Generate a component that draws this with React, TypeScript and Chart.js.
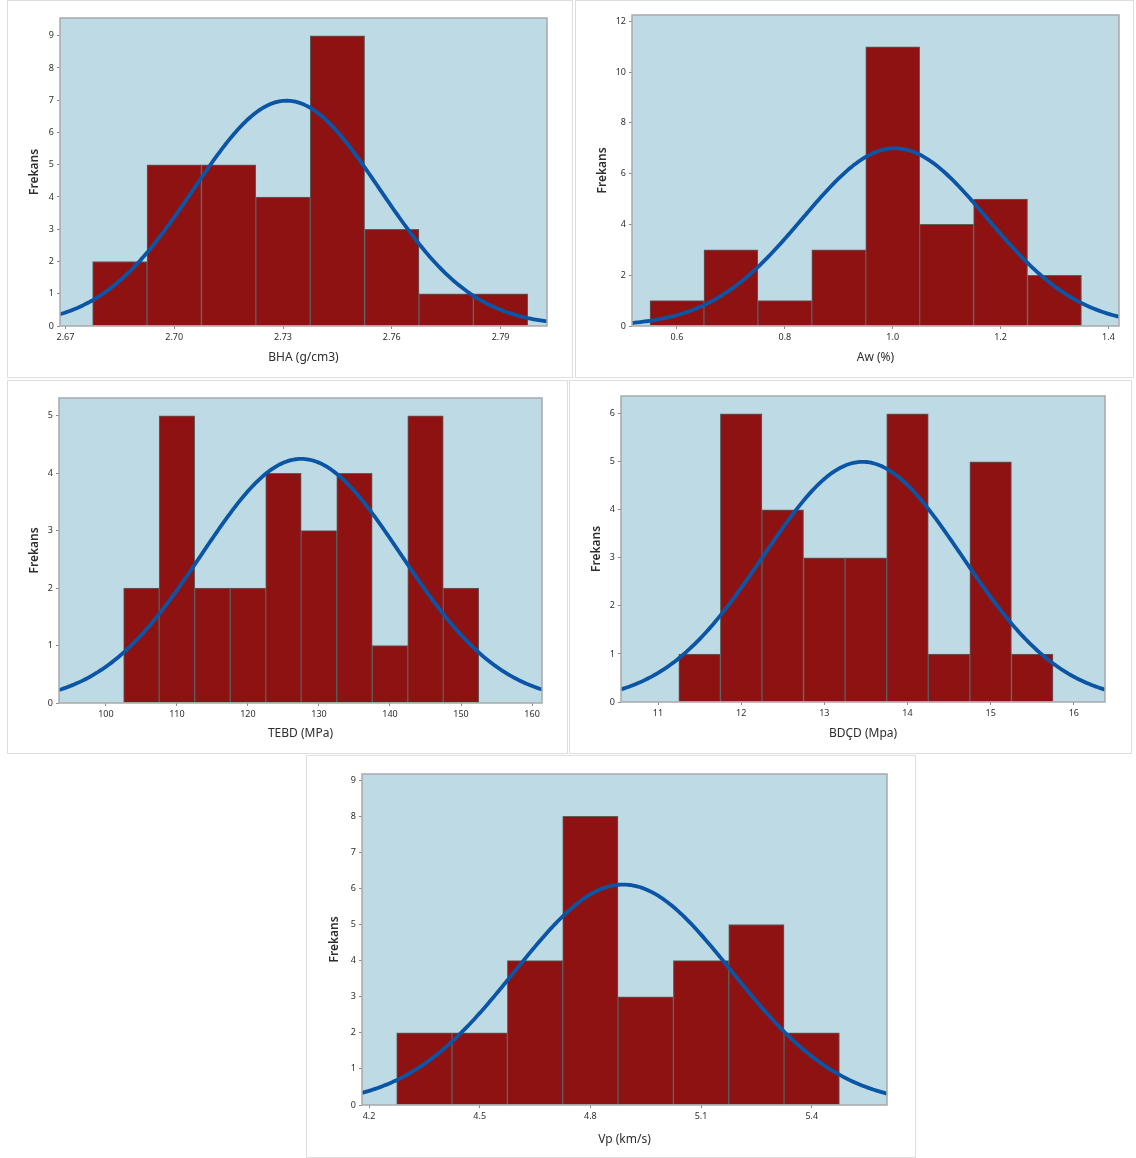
import React, { useEffect, useRef } from "react";
import { Chart, registerables } from "chart.js";

Chart.register(...registerables);

const FONT = '"Noto Sans", "Open Sans", sans-serif';
const PLOT_BG = "#bedbe5";
const BAR_FILL = "#8e1212";
const BAR_EDGE = "#5e5e5e";
const CURVE = "#0b55a6";
const FRAME = "#a7a9ab";
const TEXT = "#2e2e2e";

// ---- BHA (g/cm3) ----
const bhaBins = [2.685, 2.7, 2.715, 2.73, 2.745, 2.76, 2.775, 2.79];
const bhaCounts = [2, 5, 5, 4, 9, 3, 1, 1];
const bhaXTicks = [2.67, 2.7, 2.73, 2.76, 2.79];
const bhaXLabels = ["2.67", "2.70", "2.73", "2.76", "2.79"];
const bhaYTicks = [0, 1, 2, 3, 4, 5, 6, 7, 8, 9];
const bhaMean = 2.731;
const bhaSd = 0.0257;

// ---- Aw (%) ----
const awBins = [0.6, 0.7, 0.8, 0.9, 1.0, 1.1, 1.2, 1.3];
const awCounts = [1, 3, 1, 3, 11, 4, 5, 2];
const awXTicks = [0.6, 0.8, 1.0, 1.2, 1.4];
const awXLabels = ["0.6", "0.8", "1.0", "1.2", "1.4"];
const awYTicks = [0, 2, 4, 6, 8, 10, 12];
const awMean = 1.004;
const awSd = 0.171;

// ---- TEBD (MPa) ----
const tebdBins = [105, 110, 115, 120, 125, 130, 135, 140, 145, 150];
const tebdCounts = [2, 5, 2, 2, 4, 3, 4, 1, 5, 2];
const tebdXTicks = [100, 110, 120, 130, 140, 150, 160];
const tebdXLabels = ["100", "110", "120", "130", "140", "150", "160"];
const tebdYTicks = [0, 1, 2, 3, 4, 5];
const tebdMean = 127.5;
const tebdSd = 14.08;

// ---- BDÇD (Mpa) ----
const bdcdBins = [11.5, 12, 12.5, 13, 13.5, 14, 14.5, 15, 15.5];
const bdcdCounts = [1, 6, 4, 3, 3, 6, 1, 5, 1];
const bdcdXTicks = [11, 12, 13, 14, 15, 16];
const bdcdXLabels = ["11", "12", "13", "14", "15", "16"];
const bdcdYTicks = [0, 1, 2, 3, 4, 5, 6];
const bdcdMean = 13.46;
const bdcdSd = 1.197;

// ---- Vp (km/s) ----
const vpBins = [4.35, 4.5, 4.65, 4.8, 4.95, 5.1, 5.25, 5.4];
const vpCounts = [2, 2, 4, 8, 3, 4, 5, 2];
const vpXTicks = [4.2, 4.5, 4.8, 5.1, 5.4];
const vpXLabels = ["4.2", "4.5", "4.8", "5.1", "5.4"];
const vpYTicks = [0, 1, 2, 3, 4, 5, 6, 7, 8, 9];
const vpMean = 4.889;
const vpSd = 0.294;

type Box = { x: number; y: number; w: number; h: number };
type PlotRect = { l: number; r: number; t: number; b: number };

type HistProps = {
  box: Box;
  plot: PlotRect;
  bins: number[];
  counts: number[];
  mean: number;
  sd: number;
  xMin: number;
  xMax: number;
  yMax: number;
  xTicks: number[];
  xLabels: string[];
  yTicks: number[];
  xTitle: string;
  yTitleOffset: number;
  xTitleOffset: number;
};

function Histogram(p: HistProps) {
  const ref = useRef<HTMLCanvasElement | null>(null);

  useEffect(() => {
    if (!ref.current) return;
    const n = p.counts.reduce((a, b) => a + b, 0);
    const binW = p.bins[1] - p.bins[0];
    const amp = (n * binW) / (p.sd * Math.sqrt(2 * Math.PI));
    const curve: { x: number; y: number }[] = [];
    const steps = 300;
    for (let i = 0; i <= steps; i++) {
      const x = p.xMin + ((p.xMax - p.xMin) * i) / steps;
      const z = (x - p.mean) / p.sd;
      curve.push({ x, y: amp * Math.exp(-0.5 * z * z) });
    }

    const padRight = p.box.x + p.box.w - p.plot.r;
    const padTop = p.plot.t - p.box.y;
    const yAxisW = p.plot.l - p.box.x;
    const xAxisH = p.box.y + p.box.h - p.plot.b;

    const framePlugin = {
      id: "frame",
      beforeDraw(chart: any) {
        const { ctx, chartArea } = chart;
        ctx.save();
        ctx.fillStyle = PLOT_BG;
        ctx.fillRect(chartArea.left, chartArea.top, chartArea.width, chartArea.height);
        ctx.restore();
      },
      afterDatasetsDraw(chart: any) {
        const { ctx, chartArea } = chart;
        ctx.save();
        ctx.strokeStyle = FRAME;
        ctx.lineWidth = 1.5;
        ctx.strokeRect(chartArea.left, chartArea.top, chartArea.width, chartArea.height);
        ctx.restore();
      },
    };

    const chart = new Chart(ref.current, {
      type: "bar",
      data: {
        datasets: [
          {
            type: "line",
            data: curve,
            borderColor: CURVE,
            borderWidth: 3.8,
            pointRadius: 0,
            tension: 0,
            fill: false,
            order: 0,
          } as any,
          {
            type: "bar",
            data: p.bins.map((c, i) => ({ x: c, y: p.counts[i] })),
            backgroundColor: BAR_FILL,
            borderColor: BAR_EDGE,
            borderWidth: 1,
            barPercentage: 1,
            categoryPercentage: 1,
            order: 1,
          } as any,
        ],
      },
      options: {
        responsive: false,
        animation: false,
        maintainAspectRatio: false,
        layout: { padding: { left: 0, right: padRight, top: padTop, bottom: 0 } },
        plugins: { legend: { display: false }, tooltip: { enabled: false }, title: { display: false } },
        scales: {
          x: {
            type: "linear",
            min: p.xMin,
            max: p.xMax,
            offset: false,
            grid: { display: true, offset: false, drawOnChartArea: false, drawTicks: true, tickLength: 3, tickColor: "#8a8a8a", lineWidth: 1 },
            border: { display: false },
            afterBuildTicks: (scale: any) => {
              scale.ticks = p.xTicks.map((v) => ({ value: v }));
            },
            afterFit: (scale: any) => {
              scale.height = xAxisH;
            },
            ticks: {
              autoSkip: false,
              maxRotation: 0,
              padding: 3,
              color: TEXT,
              font: { family: FONT, size: 9 },
              callback: (_v: any, i: number) => p.xLabels[i],
            },
            title: {
              display: true,
              text: p.xTitle,
              color: TEXT,
              font: { family: FONT, size: 12 },
              padding: { top: 0, bottom: p.xTitleOffset },
            },
          },
          y: {
            type: "linear",
            min: 0,
            max: p.yMax,
            grid: { display: true, drawOnChartArea: false, drawTicks: true, tickLength: 3, tickColor: "#8a8a8a", lineWidth: 1 },
            border: { display: false },
            afterBuildTicks: (scale: any) => {
              scale.ticks = p.yTicks.map((v) => ({ value: v }));
            },
            afterFit: (scale: any) => {
              scale.width = yAxisW;
            },
            ticks: {
              autoSkip: false,
              padding: 3,
              color: TEXT,
              font: { family: FONT, size: 9 },
              callback: (v: any) => String(v),
            },
            title: {
              display: true,
              text: "Frekans",
              color: TEXT,
              font: { family: FONT, size: 12, weight: "600" },
              padding: { top: p.yTitleOffset, bottom: 0 },
            },
          },
        },
      } as any,
      plugins: [framePlugin],
    });
    return () => chart.destroy();
  }, []);

  return (
    <>
      <div
        style={{
          position: "absolute",
          left: p.box.x,
          top: p.box.y,
          width: p.box.w,
          height: p.box.h,
          boxSizing: "border-box",
          border: "1px solid #dedede",
        }}
      />
      <canvas
        ref={ref}
        width={p.box.w}
        height={p.box.h}
        style={{ position: "absolute", left: p.box.x, top: p.box.y, width: p.box.w, height: p.box.h }}
      />
    </>
  );
}

export default function App() {
  return (
    <div style={{ position: "absolute", left: 0, top: 0, width: 1136, height: 1158, background: "#ffffff", overflow: "hidden" }}>
      <Histogram
        box={{ x: 7, y: 0, w: 566, h: 378 }}
        plot={{ l: 60, r: 547, t: 18, b: 326 }}
        bins={bhaBins}
        counts={bhaCounts}
        mean={bhaMean}
        sd={bhaSd}
        xMin={2.6685}
        xMax={2.8028}
        yMax={9.55}
        xTicks={bhaXTicks}
        xLabels={bhaXLabels}
        yTicks={bhaYTicks}
        xTitle="BHA (g/cm3)"
        yTitleOffset={20.8}
        xTitleOffset={12.8}
      />
      <Histogram
        box={{ x: 575, y: 0, w: 559, h: 378 }}
        plot={{ l: 632, r: 1119, t: 15, b: 326 }}
        bins={awBins}
        counts={awCounts}
        mean={awMean}
        sd={awSd}
        xMin={0.5166}
        xMax={1.4196}
        yMax={12.25}
        xTicks={awXTicks}
        xLabels={awXLabels}
        yTicks={awYTicks}
        xTitle="Aw (%)"
        yTitleOffset={20.8}
        xTitleOffset={12.8}
      />
      <Histogram
        box={{ x: 7, y: 380, w: 561, h: 374 }}
        plot={{ l: 59, r: 542, t: 398, b: 703 }}
        bins={tebdBins}
        counts={tebdCounts}
        mean={tebdMean}
        sd={tebdSd}
        xMin={93.4}
        xMax={161.4}
        yMax={5.31}
        xTicks={tebdXTicks}
        xLabels={tebdXLabels}
        yTicks={tebdYTicks}
        xTitle="TEBD (MPa)"
        yTitleOffset={20.8}
        xTitleOffset={12.8}
      />
      <Histogram
        box={{ x: 569, y: 380, w: 563, h: 374 }}
        plot={{ l: 621, r: 1105, t: 396, b: 702 }}
        bins={bdcdBins}
        counts={bdcdCounts}
        mean={bdcdMean}
        sd={bdcdSd}
        xMin={10.555}
        xMax={16.375}
        yMax={6.37}
        xTicks={bdcdXTicks}
        xLabels={bdcdXLabels}
        yTicks={bdcdYTicks}
        xTitle="BDÇD (Mpa)"
        yTitleOffset={20.8}
        xTitleOffset={12.8}
      />
      <Histogram
        box={{ x: 306, y: 755, w: 610, h: 403 }}
        plot={{ l: 362, r: 887, t: 774, b: 1105 }}
        bins={vpBins}
        counts={vpCounts}
        mean={vpMean}
        sd={vpSd}
        xMin={4.181}
        xMax={5.604}
        yMax={9.17}
        xTicks={vpXTicks}
        xLabels={vpXLabels}
        yTicks={vpYTicks}
        xTitle="Vp (km/s)"
        yTitleOffset={21.8}
        xTitleOffset={10.8}
      />
    </div>
  );
}
